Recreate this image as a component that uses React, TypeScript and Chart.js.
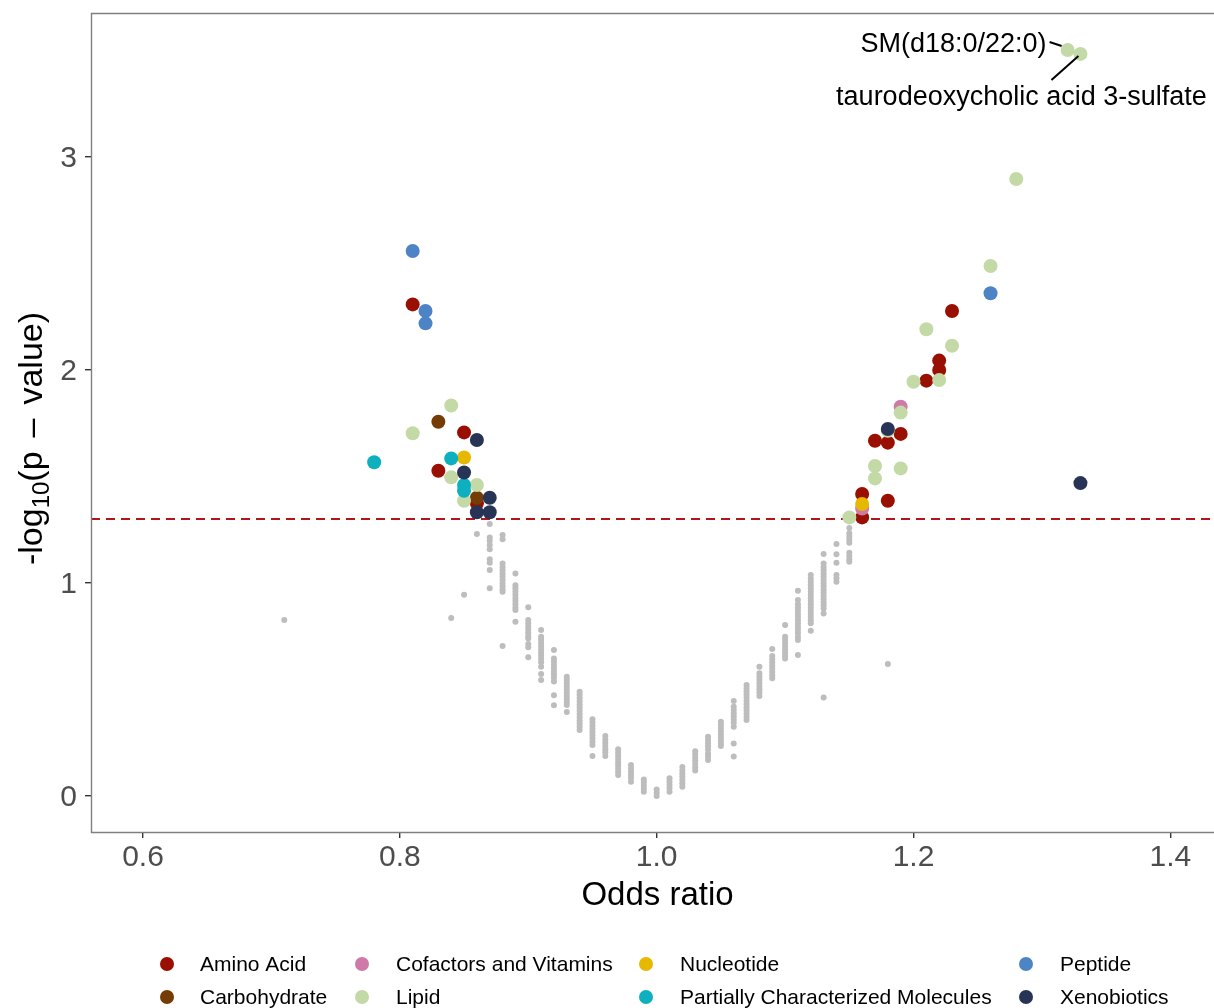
import React, { useEffect, useRef } from "react";
import { Chart, registerables } from "chart.js";

Chart.register(...registerables);

const FONT = '"Liberation Sans", Arial, Helvetica, sans-serif';

// ---------- data ----------
const categories = [
  "Amino Acid",
  "Carbohydrate",
  "Cofactors and Vitamins",
  "Lipid",
  "Nucleotide",
  "Partially Characterized Molecules",
  "Peptide",
  "Xenobiotics",
];
const categoryColors = [
  "#990f02",
  "#763c06",
  "#cf79a8",
  "#c3d9a6",
  "#e6b800",
  "#0eb0c0",
  "#4d84c6",
  "#283456",
];

const aminoOR = [0.81, 0.85, 0.83, 0.86, 1.23, 1.22, 1.22, 1.21, 1.17, 1.18, 1.19, 1.16, 1.18, 1.16];
const aminoLogP = [2.308, 1.707, 1.527, 1.374, 2.277, 2.044, 2.0, 1.95, 1.668, 1.659, 1.7, 1.418, 1.386, 1.308];
const carbOR = [0.83, 0.86];
const carbLogP = [1.757, 1.4];
const cofactorOR = [1.19, 1.16];
const cofactorLogP = [1.828, 1.35];
const lipidOR = [0.84, 0.81, 0.84, 0.86, 0.85, 1.21, 1.23, 1.2, 1.22, 1.19, 1.17, 1.17, 1.19, 1.15, 1.28, 1.26, 1.32, 1.33, 1.18];
const lipidLogP = [1.833, 1.703, 1.496, 1.46, 1.386, 2.191, 2.114, 1.945, 1.953, 1.8, 1.549, 1.491, 1.538, 1.308, 2.897, 2.488, 3.502, 3.484, 1.715];
const nucleotideOR = [0.85, 1.16];
const nucleotideLogP = [1.589, 1.371];
const partialOR = [0.78, 0.84, 0.85, 0.85];
const partialLogP = [1.567, 1.585, 1.46, 1.433];
const peptideOR = [0.81, 0.82, 0.82, 1.26];
const peptideLogP = [2.559, 2.277, 2.219, 2.36];
const xenoOR = [0.86, 0.85, 0.87, 0.86, 0.87, 1.18, 1.33];
const xenoLogP = [1.671, 1.519, 1.4, 1.332, 1.332, 1.723, 1.469];

const categoryOR = [aminoOR, carbOR, cofactorOR, lipidOR, nucleotideOR, partialOR, peptideOR, xenoOR];
const categoryLogP = [aminoLogP, carbLogP, cofactorLogP, lipidLogP, nucleotideLogP, partialLogP, peptideLogP, xenoLogP];

// non-significant metabolites, one entry per odds-ratio column
const greyOR = [
  0.71, 0.84, 0.85, 0.86, 0.87, 0.88, 0.89, 0.9, 0.91, 0.92, 0.93, 0.94, 0.95, 0.96, 0.97, 0.98, 0.99, 1.0,
  1.01, 1.02, 1.03, 1.04, 1.05, 1.06, 1.07, 1.08, 1.09, 1.1, 1.11, 1.12, 1.13, 1.14, 1.15, 1.18,
];
const greyLogP = [
  [0.826],
  [0.836],
  [0.945],
  [1.23],
  [1.277, 1.214, 1.198, 1.178, 1.158, 1.111, 1.095, 1.061, 0.975],
  [1.225, 1.205, 1.092, 1.075, 1.06, 1.045, 1.03, 1.015, 1.0, 0.985, 0.97, 0.959, 0.704],
  [1.045, 0.99, 0.975, 0.96, 0.945, 0.93, 0.915, 0.9, 0.885, 0.873, 0.818],
  [0.886, 0.826, 0.81, 0.795, 0.78, 0.765, 0.75, 0.74, 0.714, 0.698, 0.651],
  [0.779, 0.748, 0.733, 0.718, 0.703, 0.688, 0.673, 0.658, 0.643, 0.628, 0.607, 0.573, 0.545],
  [0.685, 0.646, 0.63, 0.615, 0.6, 0.585, 0.57, 0.555, 0.537, 0.473, 0.426],
  [0.56, 0.545, 0.53, 0.515, 0.5, 0.485, 0.47, 0.455, 0.44, 0.427, 0.394],
  [0.49, 0.475, 0.46, 0.445, 0.43, 0.415, 0.4, 0.385, 0.37, 0.355, 0.34, 0.325, 0.31],
  [0.36, 0.345, 0.33, 0.315, 0.3, 0.285, 0.27, 0.255, 0.24, 0.188],
  [0.282, 0.265, 0.25, 0.235, 0.22, 0.205, 0.188],
  [0.219, 0.204, 0.189, 0.174, 0.159, 0.144, 0.129, 0.114, 0.099],
  [0.146, 0.13, 0.115, 0.1, 0.085, 0.067],
  [0.078, 0.063, 0.048, 0.034, 0.02],
  [0.03, 0.015, 0.0],
  [0.083, 0.068, 0.053, 0.038, 0.02],
  [0.136, 0.12, 0.105, 0.09, 0.075, 0.06, 0.044],
  [0.21, 0.195, 0.18, 0.165, 0.15, 0.135, 0.12],
  [0.278, 0.263, 0.248, 0.233, 0.218, 0.2, 0.185, 0.169],
  [0.349, 0.334, 0.319, 0.304, 0.289, 0.274, 0.259, 0.245, 0.235],
  [0.446, 0.419, 0.404, 0.389, 0.374, 0.359, 0.344, 0.325, 0.247, 0.185],
  [0.521, 0.506, 0.491, 0.476, 0.461, 0.446, 0.431, 0.416, 0.401, 0.386, 0.371, 0.357],
  [0.607, 0.576, 0.561, 0.546, 0.531, 0.516, 0.501, 0.486, 0.469],
  [0.69, 0.657, 0.642, 0.627, 0.612, 0.597, 0.582, 0.567, 0.553],
  [0.803, 0.748, 0.733, 0.718, 0.703, 0.688, 0.673, 0.658, 0.646],
  [0.964, 0.92, 0.9, 0.885, 0.87, 0.855, 0.84, 0.825, 0.81, 0.795, 0.78, 0.765, 0.748, 0.732, 0.662],
  [1.038, 1.02, 1.005, 0.99, 0.975, 0.96, 0.945, 0.93, 0.915, 0.9, 0.885, 0.87, 0.855, 0.84, 0.825, 0.811, 0.776],
  [1.136, 1.092, 1.075, 1.06, 1.045, 1.03, 1.015, 1.0, 0.985, 0.97, 0.955, 0.94, 0.925, 0.91, 0.895, 0.88, 0.857, 0.463],
  [1.183, 1.135, 1.095, 1.038, 1.022, 1.006],
  [1.258, 1.233, 1.218, 1.203, 1.189, 1.142, 1.127, 1.112, 1.1],
  [0.62],
];

const xTickValues = [0.6, 0.8, 1.0, 1.2, 1.4];
const yTickValues = [0, 1, 2, 3];
const X_MIN = 0.5595;
const X_MAX = 1.434;
const Y_MIN = -0.169;
const Y_MAX = 3.676;
const THRESHOLD = -Math.log10(0.05);

const labelTexts = ["SM(d18:0/22:0)", "taurodeoxycholic acid 3-sulfate"];
const labelOR = [1.32, 1.33];
const labelLogP = [3.502, 3.484];

// ---------- plugin ----------
const panelPlugin = {
  id: "panelDecor",
  beforeDatasetsDraw(chart: any) {
    const { ctx, chartArea, scales } = chart;
    const y = scales.y.getPixelForValue(THRESHOLD);
    ctx.save();
    ctx.strokeStyle = "#b0171c";
    ctx.lineWidth = 2;
    ctx.setLineDash([9, 6]);
    ctx.beginPath();
    ctx.moveTo(chartArea.left, y);
    ctx.lineTo(chart.width, y);
    ctx.stroke();
    ctx.restore();
  },
  afterDraw(chart: any) {
    const { ctx, chartArea, scales } = chart;
    ctx.save();
    // panel border
    ctx.strokeStyle = "#7f7f7f";
    ctx.lineWidth = 1.4;
    ctx.beginPath();
    ctx.moveTo(chart.width + 2, chartArea.top + 0.5);
    ctx.lineTo(chartArea.left + 0.5, chartArea.top + 0.5);
    ctx.lineTo(chartArea.left + 0.5, chartArea.bottom + 0.5);
    ctx.lineTo(chart.width + 2, chartArea.bottom + 0.5);
    ctx.stroke();

    // x tick labels
    ctx.fillStyle = "#4d4d4d";
    ctx.font = `30px ${FONT}`;
    ctx.textAlign = "center";
    ctx.textBaseline = "middle";
    xTickValues.forEach((v) => {
      ctx.fillText(v.toFixed(1), scales.x.getPixelForValue(v), chartArea.bottom + 26);
    });

    // annotations
    const p1x = scales.x.getPixelForValue(labelOR[0]);
    const p1y = scales.y.getPixelForValue(labelLogP[0]);
    const p2x = scales.x.getPixelForValue(labelOR[1]);
    const p2y = scales.y.getPixelForValue(labelLogP[1]);
    ctx.strokeStyle = "#000";
    ctx.lineWidth = 2;
    ctx.beginPath();
    ctx.moveTo(p1x - 18, p1y - 8);
    ctx.lineTo(p1x - 6, p1y - 4);
    ctx.moveTo(p2x - 29, p2y + 26);
    ctx.lineTo(p2x - 2, p2y + 2);
    ctx.stroke();
    ctx.fillStyle = "#000";
    ctx.font = `27px ${FONT}`;
    ctx.textBaseline = "alphabetic";
    ctx.textAlign = "right";
    ctx.fillText(labelTexts[0], p1x - 21, p1y + 2);
    ctx.textAlign = "center";
    ctx.fillText(labelTexts[1], p2x - 59, p2y + 51);

    // axis titles
    ctx.fillStyle = "#000";
    ctx.font = `33px ${FONT}`;
    ctx.textAlign = "center";
    ctx.textBaseline = "alphabetic";
    ctx.fillText("Odds ratio", (chartArea.left + chartArea.right) / 2 + 5, 905);

    ctx.save();
    ctx.translate(42, (chartArea.top + chartArea.bottom) / 2 + 16);
    ctx.rotate(-Math.PI / 2);
    const parts = ["-log", "10", "(p", "\u2013", "value)"];
    const gap = 14;
    ctx.font = `34px ${FONT}`;
    const w0 = ctx.measureText(parts[0]).width;
    const w2 = ctx.measureText(parts[2]).width;
    const w3 = ctx.measureText(parts[3]).width;
    const w4 = ctx.measureText(parts[4]).width;
    ctx.font = `24px ${FONT}`;
    const w1 = ctx.measureText(parts[1]).width;
    const total = w0 + w1 + w2 + gap + w3 + gap + w4;
    let x0 = -total / 2;
    ctx.textAlign = "left";
    ctx.font = `34px ${FONT}`;
    ctx.fillText(parts[0], x0, 0);
    x0 += w0;
    ctx.font = `24px ${FONT}`;
    ctx.fillText(parts[1], x0, 7);
    x0 += w1;
    ctx.font = `34px ${FONT}`;
    ctx.fillText(parts[2], x0, 0);
    x0 += w2 + gap;
    ctx.fillText(parts[3], x0, 0);
    x0 += w3 + gap;
    ctx.fillText(parts[4], x0, 0);
    ctx.restore();

    // legend
    const dotX = [167, 362, 646, 1026];
    const textX = [200, 396, 680, 1060];
    const rowY = [964, 997];
    ctx.font = `21px ${FONT}`;
    ctx.textAlign = "left";
    ctx.textBaseline = "middle";
    categories.forEach((name, i) => {
      const col = Math.floor(i / 2);
      const row = i % 2;
      ctx.fillStyle = categoryColors[i];
      ctx.beginPath();
      ctx.arc(dotX[col], rowY[row], 7, 0, Math.PI * 2);
      ctx.fill();
      ctx.fillStyle = "#000";
      ctx.fillText(name, textX[col], rowY[row] + 1);
    });
    ctx.restore();
  },
};

export default function App() {
  const canvasRef = useRef<HTMLCanvasElement | null>(null);

  useEffect(() => {
    const canvas = canvasRef.current;
    if (!canvas) return;

    const greyPoints: { x: number; y: number }[] = [];
    greyOR.forEach((or, i) => {
      greyLogP[i].forEach((v) => greyPoints.push({ x: or, y: v }));
    });

    const datasets: any[] = categories.map((name, i) => ({
      label: name,
      data: categoryOR[i].map((or, j) => ({ x: or, y: categoryLogP[i][j] })),
      backgroundColor: categoryColors[i],
      borderWidth: 0,
      pointRadius: 7,
      pointHoverRadius: 7,
      order: categories.length - i,
    }));
    datasets.push({
      label: "Not significant",
      data: greyPoints,
      backgroundColor: "#bdbdbd",
      borderWidth: 0,
      pointRadius: 3,
      pointHoverRadius: 3,
      order: 50,
    });

    const chart = new Chart(canvas, {
      type: "scatter",
      data: { datasets },
      plugins: [panelPlugin],
      options: {
        responsive: false,
        animation: false,
        devicePixelRatio: 1,
        events: [],
        layout: { autoPadding: false, padding: { top: 13, left: 0, right: 0, bottom: 0 } },
        plugins: {
          legend: { display: false },
          tooltip: { enabled: false },
        },
        scales: {
          x: {
            type: "linear",
            min: X_MIN,
            max: X_MAX,
            afterBuildTicks: (axis: any) => {
              axis.ticks = xTickValues.map((v) => ({ value: v }));
            },
            afterFit: (axis: any) => {
              axis.height = 176;
              axis.paddingLeft = 0;
              axis.paddingRight = 0;
              axis.paddingTop = 0;
              axis.paddingBottom = 0;
            },
            border: { display: false },
            grid: {
              drawOnChartArea: false,
              drawTicks: true,
              tickLength: 6,
              color: "#333333",
              lineWidth: 1.4,
            },
            ticks: { display: false },
          },
          y: {
            type: "linear",
            min: Y_MIN,
            max: Y_MAX,
            afterBuildTicks: (axis: any) => {
              axis.ticks = yTickValues.map((v) => ({ value: v }));
            },
            afterFit: (axis: any) => {
              axis.width = 91;
              axis.paddingLeft = 0;
              axis.paddingRight = 0;
              axis.paddingTop = 0;
              axis.paddingBottom = 0;
            },
            border: { display: false },
            grid: {
              drawOnChartArea: false,
              drawTicks: true,
              tickLength: 6,
              color: "#333333",
              lineWidth: 1.4,
            },
            ticks: {
              font: { family: FONT, size: 30 },
              color: "#4d4d4d",
              padding: 8,
              labelOffset: 2,
              autoSkip: false,
              callback: (v: any) => String(Math.round(Number(v))),
            },
          },
        },
      } as any,
    });

    return () => chart.destroy();
  }, []);

  return (
    <div style={{ position: "absolute", left: 0, top: 0, width: 1214, height: 1008, background: "#fff" }}>
      <canvas ref={canvasRef} width={1214} height={1008} style={{ display: "block", width: 1214, height: 1008 }} />
    </div>
  );
}
